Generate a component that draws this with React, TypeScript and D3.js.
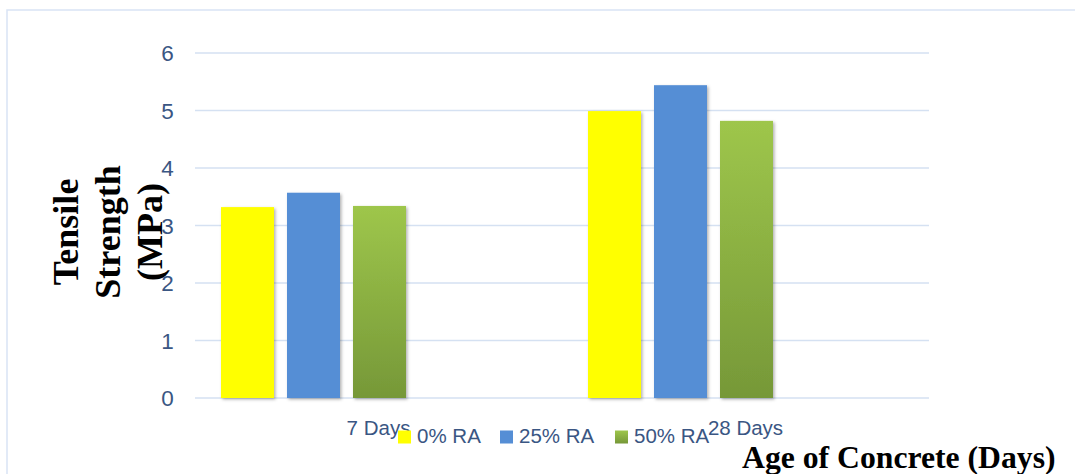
import React from "react";
import * as d3 from "d3";

const categories = ["7 Days", "28 Days"];
const seriesNames = ["0% RA", "25% RA", "50% RA"];
const values0 = [3.32, 4.99];
const values25 = [3.57, 5.44];
const values50 = [3.34, 4.82];
const yTicks = [0, 1, 2, 3, 4, 5, 6];
const yTitleLines = ["Tensile", "Strength", "(MPa)"];
const xTitle = "Age of Concrete (Days)";

const seriesValues = [values0, values25, values50];
const seriesFill = ["#ffff00", "#558ed5", "url(#greenGrad)"];

const W = 1075;
const H = 474;
const FONT = "'Liberation Sans', Arial, sans-serif";
const TEXT_COLOR = "#3a5683";

export default function App() {
  const x0 = d3.scaleBand<string>().domain(categories).range([195, 929]);
  const x1 = d3
    .scaleBand<string>()
    .domain(seriesNames)
    .range([26, 211])
    .paddingInner(13 / 66);
  const y = d3.scaleLinear().domain([0, 6]).range([398, 53]);

  const legendX = [398, 500, 615];

  return (
    <svg
      width={W}
      height={H}
      style={{ position: "absolute", left: 0, top: 0, background: "#fff" }}
    >
      <defs>
        <linearGradient id="greenGrad" x1="0" y1="0" x2="0" y2="1">
          <stop offset="0%" stopColor="#9ec64b" />
          <stop offset="100%" stopColor="#769838" />
        </linearGradient>
        <filter id="shadow" x="-20%" y="-5%" width="140%" height="115%">
          <feDropShadow dx="1.5" dy="1.5" stdDeviation="1.5" floodColor="#000" floodOpacity="0.3" />
        </filter>
      </defs>

      {/* outer border */}
      <rect x={7} y={10} width={W + 10} height={H + 10} fill="none" stroke="#d9e4f5" strokeWidth={1.5} />

      {/* gridlines */}
      {yTicks.map((t) => (
        <line
          key={"g" + t}
          x1={195}
          x2={929}
          y1={y(t)}
          y2={y(t)}
          stroke="#d5e1f2"
          strokeWidth={1.5}
        />
      ))}

      {/* bars */}
      {categories.map((c, ci) => (
        <g key={c} transform={`translate(${x0(c)},0)`}>
          {seriesNames.map((s, si) => {
            const v = seriesValues[si][ci];
            return (
              <rect
                key={s}
                x={x1(s)}
                y={y(v)}
                width={x1.bandwidth()}
                height={y(0) - y(v)}
                fill={seriesFill[si]}
                filter="url(#shadow)"
              />
            );
          })}
        </g>
      ))}

      {/* y title */}
      <text
        transform="translate(0,232) rotate(-90)"
        fontFamily="'Liberation Serif', 'Times New Roman', serif"
        fontWeight="bold"
        fontSize={36}
        fill="#000"
        textAnchor="middle"
      >
        {yTitleLines.map((l, i) => (
          <tspan key={l} x={0} y={78 + i * 42}>
            {l}
          </tspan>
        ))}
      </text>

      {/* y tick labels */}
      {yTicks.map((t) => (
        <text
          key={"t" + t}
          x={167.5}
          y={y(t)}
          dy="0.36em"
          textAnchor="middle"
          fontFamily={FONT}
          fontSize={22.5}
          fill={TEXT_COLOR}
        >
          {t}
        </text>
      ))}

      {/* category labels */}
      {categories.map((c) => (
        <text
          key={"c" + c}
          x={(x0(c) as number) + x0.bandwidth() / 2}
          y={435}
          textAnchor="middle"
          fontFamily={FONT}
          fontSize={20.5}
          fill={TEXT_COLOR}
        >
          {c}
        </text>
      ))}

      {/* legend */}
      {seriesNames.map((s, i) => (
        <g key={"l" + s}>
          <rect x={legendX[i]} y={430.5} width={13} height={13} fill={seriesFill[i]} />
          <text
            x={legendX[i] + 19}
            y={443}
            fontFamily={FONT}
            fontSize={20.5}
            fill={TEXT_COLOR}
          >
            {s}
          </text>
        </g>
      ))}

      {/* x title */}
      <text
        x={742}
        y={468}
        fontFamily="'Liberation Serif', 'Times New Roman', serif"
        fontWeight="bold"
        fontSize={31.7}
        fill="#000"
      >
        {xTitle}
      </text>
    </svg>
  );
}
